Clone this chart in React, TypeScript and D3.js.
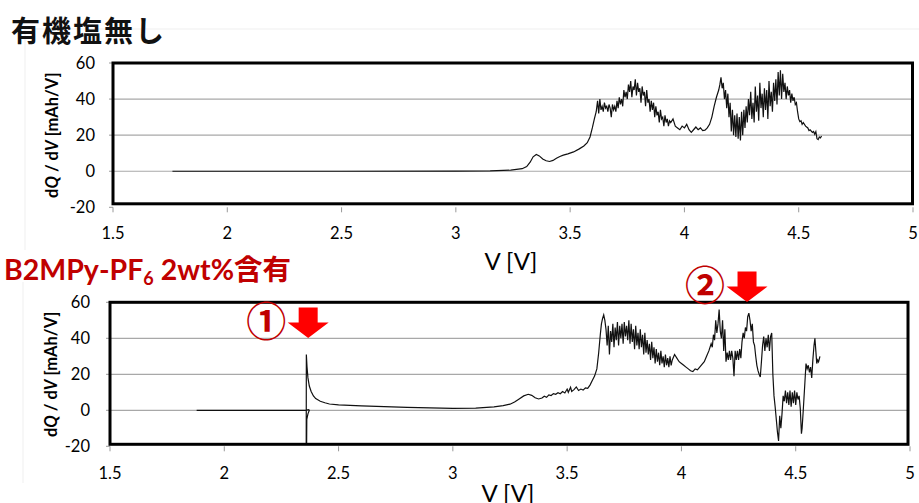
import React from "react";
import * as d3 from "d3";

// ---------- data ----------
const xTicks = [1.5, 2, 2.5, 3, 3.5, 4, 4.5, 5];
const yTicks = [-20, 0, 20, 40, 60];
const gridValues = [0, 20, 40];
const topTitle = "有機塩無し";
const bottomTitleMain = "B2MPy-PF";
const bottomTitleSub = "6";
const bottomTitleRest = " 2wt%含有";
const xAxisTitle = "V [V]";
const annotationV = [2.367, 4.287];
const annotationLabels = ["①", "②"];

// 有機塩無し : [V, dQ/dV]
const topSeries: [number, number][] = [
  [1.76, 0], [2.5, 0], [3.0, 0.1], [3.15, 0.2], [3.24, 0.6], [3.29, 1.4], [3.31, 2.6], [3.325, 5], [3.338, 8],
  [3.352, 9.3], [3.365, 8.5], [3.38, 6.8], [3.395, 5.8], [3.41, 5.4], [3.425, 6], [3.44, 7.2], [3.455, 8.2],
  [3.47, 8.9], [3.49, 9.6], [3.515, 10.7], [3.54, 12.4], [3.56, 14], [3.575, 15.8], [3.587, 19], [3.597, 24],
  [3.606, 29], [3.614, 33],
  [3.62, 39], [3.625, 32], [3.63, 40], [3.635, 34], [3.64, 36], [3.645, 33], [3.65, 38], [3.655, 35], [3.66, 36],
  [3.665, 33], [3.67, 37], [3.675, 35], [3.68, 30], [3.685, 37], [3.69, 34], [3.695, 36], [3.7, 33], [3.705, 39],
  [3.71, 35], [3.715, 41], [3.72, 37], [3.725, 40], [3.73, 36], [3.735, 45], [3.74, 41], [3.745, 44], [3.75, 40],
  [3.755, 48], [3.76, 44], [3.765, 50], [3.77, 41], [3.775, 47], [3.78, 45], [3.785, 51], [3.79, 42], [3.795, 49],
  [3.8, 44], [3.805, 46], [3.81, 38], [3.815, 47], [3.82, 42], [3.825, 44], [3.83, 36], [3.835, 45], [3.84, 38],
  [3.845, 40], [3.85, 33], [3.855, 39], [3.86, 34], [3.865, 38], [3.87, 30], [3.875, 36], [3.88, 31], [3.885, 33],
  [3.89, 27], [3.895, 34], [3.9, 29], [3.905, 30], [3.91, 25], [3.915, 31], [3.92, 27], [3.925, 29], [3.93, 25],
  [3.935, 28], [3.94, 27], [3.95, 29], [3.96, 25], [3.97, 24], [3.98, 23], [3.99, 25], [4.0, 24], [4.01, 26],
  [4.02, 23], [4.03, 21.5], [4.04, 23], [4.05, 24.5], [4.06, 23], [4.07, 24], [4.08, 22.5], [4.09, 22.8], [4.1, 24],
  [4.11, 26], [4.12, 30], [4.13, 36], [4.14, 41], [4.15, 45], [4.155, 48], [4.16, 52], [4.165, 46], [4.17, 49],
  [4.175, 40], [4.18, 45], [4.185, 35], [4.19, 43], [4.195, 30], [4.2, 38], [4.205, 22], [4.21, 34], [4.215, 20],
  [4.22, 31], [4.225, 19], [4.23, 32], [4.235, 18], [4.24, 30], [4.245, 17], [4.25, 33], [4.255, 20], [4.26, 34],
  [4.265, 24], [4.27, 36], [4.275, 27], [4.28, 40], [4.285, 31], [4.29, 44], [4.295, 29], [4.3, 38], [4.305, 27],
  [4.31, 47], [4.315, 33], [4.32, 42], [4.325, 28], [4.33, 49], [4.335, 35], [4.34, 43], [4.345, 30], [4.35, 46],
  [4.355, 34], [4.36, 45], [4.365, 29], [4.37, 50], [4.375, 36], [4.38, 44], [4.385, 33], [4.39, 49], [4.395, 39],
  [4.4, 51], [4.405, 37], [4.41, 55], [4.415, 42], [4.42, 56], [4.425, 40], [4.43, 54], [4.435, 44], [4.44, 49],
  [4.445, 40], [4.45, 47], [4.455, 42], [4.46, 45], [4.465, 38], [4.47, 43], [4.475, 39], [4.48, 41], [4.485, 37],
  [4.49, 38], [4.495, 33], [4.5, 29], [4.505, 27.5], [4.51, 28], [4.515, 26], [4.52, 27], [4.53, 25], [4.54, 24],
  [4.545, 22.5], [4.55, 23], [4.56, 21.5], [4.565, 22], [4.57, 20.5], [4.575, 22], [4.58, 18], [4.585, 17.5],
  [4.59, 19], [4.595, 18.5], [4.6, 19.5],
];

// B2MPy-PF6 2wt%含有 : [V, dQ/dV]
const bottomSeries: [number, number][] = [
  [1.879, 0], [2.356, 0], [2.368, 0.4], [2.372, 0], [2.366, -2], [2.361, -5], [2.358, -60], [2.359, 31],
  [2.362, 24], [2.366, 18], [2.372, 13.5], [2.38, 10.5], [2.39, 8], [2.4, 6.5], [2.42, 5], [2.44, 4.2], [2.46, 3.5],
  [2.5, 3], [2.6, 2.5], [2.7, 2], [2.8, 1.6], [2.9, 1.3], [3.0, 1.1], [3.1, 1.2], [3.18, 1.9], [3.22, 2.6],
  [3.25, 3.4], [3.27, 4.6], [3.29, 6.3], [3.31, 8], [3.33, 8.9], [3.345, 8.3], [3.36, 7], [3.375, 6.3], [3.39, 6.8],
  [3.4, 7.8], [3.41, 7.2], [3.42, 8.6], [3.43, 8.2], [3.44, 9.3], [3.45, 8.9], [3.46, 9.8], [3.47, 9.2], [3.48, 10.4],
  [3.49, 9.6], [3.5, 11.8], [3.505, 10], [3.515, 12.8], [3.52, 10.5], [3.53, 11.5], [3.54, 13], [3.55, 11],
  [3.56, 11.8], [3.57, 11.2], [3.58, 12.5], [3.59, 12.2], [3.6, 14], [3.61, 16.5], [3.62, 19], [3.63, 23],
  [3.638, 32], [3.645, 42], [3.65, 48], [3.655, 51], [3.66, 53], [3.665, 50], [3.67, 45],
  [3.675, 36], [3.68, 47], [3.685, 31], [3.69, 44], [3.695, 38], [3.7, 48], [3.705, 35], [3.71, 46], [3.715, 39],
  [3.72, 49], [3.725, 36], [3.73, 47], [3.735, 40], [3.74, 48], [3.745, 37], [3.75, 49], [3.755, 41], [3.76, 47],
  [3.765, 39], [3.77, 50], [3.775, 37], [3.78, 48], [3.785, 38], [3.79, 45], [3.795, 34], [3.8, 47], [3.805, 36],
  [3.81, 43], [3.815, 34], [3.82, 45], [3.825, 35], [3.83, 42], [3.835, 31], [3.84, 43], [3.845, 32], [3.85, 39],
  [3.855, 31], [3.86, 37], [3.865, 28], [3.87, 38], [3.875, 29], [3.88, 35], [3.885, 26], [3.89, 34], [3.895, 27],
  [3.9, 32], [3.905, 25], [3.91, 33], [3.915, 26], [3.92, 30], [3.925, 24], [3.93, 31], [3.935, 25], [3.94, 29],
  [3.945, 24], [3.95, 30], [3.955, 25], [3.96, 28], [3.97, 31], [3.98, 29], [3.99, 27], [4.0, 26], [4.01, 25],
  [4.02, 24], [4.03, 23], [4.04, 22], [4.05, 21.5], [4.06, 23], [4.07, 22.5], [4.08, 24], [4.09, 25.5], [4.1, 27],
  [4.11, 30], [4.12, 33], [4.13, 37], [4.135, 35], [4.14, 42], [4.145, 39], [4.15, 50], [4.155, 43], [4.16, 48],
  [4.165, 56], [4.17, 44], [4.175, 40], [4.18, 50], [4.185, 33], [4.19, 45], [4.195, 27], [4.2, 32], [4.205, 28],
  [4.21, 33], [4.215, 28], [4.22, 33], [4.225, 29], [4.23, 19], [4.235, 33], [4.24, 28], [4.245, 33], [4.25, 28],
  [4.255, 34], [4.26, 29], [4.265, 38], [4.27, 43], [4.275, 40], [4.28, 46], [4.285, 44], [4.29, 52], [4.295, 54],
  [4.3, 50], [4.305, 44], [4.31, 48], [4.315, 38], [4.32, 36], [4.325, 30], [4.33, 25], [4.335, 22], [4.34, 20],
  [4.345, 18.5], [4.35, 27], [4.355, 36], [4.36, 41], [4.365, 33], [4.37, 40], [4.375, 35], [4.38, 42], [4.385, 33],
  [4.39, 41], [4.395, 43], [4.4, 20], [4.405, 8], [4.41, 2], [4.415, -5], [4.42, -12], [4.425, -17], [4.43, -3],
  [4.435, -10], [4.44, -2], [4.445, 8], [4.45, 5], [4.455, 11], [4.46, 4], [4.465, 10], [4.47, 3], [4.475, 11],
  [4.48, 2], [4.485, 10], [4.49, 4], [4.495, 11], [4.5, 3], [4.505, 10], [4.51, 6], [4.515, 8], [4.52, 1],
  [4.525, -13], [4.528, -10], [4.533, 0], [4.54, 15], [4.545, 26], [4.55, 23], [4.555, 25], [4.56, 21],
  [4.565, 24], [4.57, 18], [4.575, 28], [4.58, 36], [4.584, 40], [4.588, 33], [4.592, 26], [4.596, 28], [4.6, 27],
  [4.606, 30],
];

const FONT = "Lato, 'Noto Sans CJK JP', sans-serif";

type PanelProps = {
  id: string;
  series: [number, number][];
  x0: number;
  x1: number;
  yTop: number;
  yBottom: number;
  insetRight: number;
  insetBottom: number;
  yLabelRight: number;
  yTitleX: number;
  xLabelY: number;
  xTitleY: number;
};

function Panel(p: PanelProps) {
  const x = d3.scaleLinear().domain([1.5, 5]).range([p.x0, p.x1]);
  const y = d3.scaleLinear().domain([-20, 60]).range([p.yBottom, p.yTop]);
  const line = d3
    .line<[number, number]>()
    .x((d) => x(d[0]))
    .y((d) => y(d[1]));
  const bx0 = x(1.5);
  const bx1 = x(5) - p.insetRight;
  const by0 = y(60);
  const by1 = y(-20) - p.insetBottom;
  const cy = (y(60) + y(-20)) / 2;
  return (
    <g>
      <defs>
        <clipPath id={p.id}>
          <rect x={bx0} y={by0} width={bx1 - bx0} height={by1 - by0} />
        </clipPath>
      </defs>
      {gridValues.map((v) => (
        <line key={v} x1={bx0} x2={bx1} y1={y(v)} y2={y(v)} stroke="#a8a8a8" strokeWidth={1.2} />
      ))}
      {yTicks.map((v) => (
        <line key={"yt" + v} x1={bx0 - 4} x2={bx0} y1={y(v)} y2={y(v)} stroke="#999" strokeWidth={1} />
      ))}
      {xTicks.map((v) => (
        <line key={"xt" + v} x1={x(v)} x2={x(v)} y1={y(-20)} y2={y(-20) + 5} stroke="#999" strokeWidth={1} />
      ))}
      <path d={line(p.series) || ""} fill="none" stroke="#111" strokeWidth={1.2} clipPath={`url(#${p.id})`} />
      <rect x={bx0} y={by0} width={bx1 - bx0} height={by1 - by0} fill="none" stroke="#000" strokeWidth={3} />
      {yTicks.map((v) => (
        <text key={"yl" + v} x={p.yLabelRight} y={y(v) + 5.5} textAnchor="end" fontSize={16.5} fontFamily={FONT} fill="#000">
          {v}
        </text>
      ))}
      {xTicks.map((v) => (
        <text key={"xl" + v} x={x(v)} y={p.xLabelY} textAnchor="middle" fontSize={16.5} fontFamily={FONT} fill="#000">
          {String(v)}
        </text>
      ))}
      <text
        transform={`translate(${p.yTitleX},${cy}) rotate(-90)`}
        textAnchor="middle"
        fontSize={16.5}
        fontWeight="bold"
        fontFamily={FONT}
        fill="#000"
      >
        d<tspan fontStyle="italic">Q</tspan> / d<tspan fontStyle="italic">V</tspan> [mAh/V]
      </text>
      <text x={(p.x0 + p.x1) / 2 - 2} y={p.xTitleY} textAnchor="middle" fontSize={24} fontFamily={FONT} fill="#000">
        {xAxisTitle}
      </text>
    </g>
  );
}

function Arrow({ cx, tipY }: { cx: number; tipY: number }) {
  const hw = 20.5;
  const sw = 9.5;
  const hh = 15.5;
  const sh = 15;
  const pts = [
    [cx - sw, tipY - hh - sh],
    [cx + sw, tipY - hh - sh],
    [cx + sw, tipY - hh],
    [cx + hw, tipY - hh],
    [cx, tipY],
    [cx - hw, tipY - hh],
    [cx - sw, tipY - hh],
  ];
  return <polygon points={pts.map((q) => q.join(",")).join(" ")} fill="#ff0000" />;
}

export default function App() {
  const xBottom = d3.scaleLinear().domain([1.5, 5]).range([110, 910]);
  const tips = [338, 302];
  return (
    <div style={{ position: "absolute", left: 0, top: 0 }}>
      <svg width={919} height={503} style={{ display: "block", background: "#fff" }}>
        <line x1={25} x2={919} y1={29} y2={29} stroke="#efefef" />
        <line x1={25} x2={25} y1={29} y2={250} stroke="#efefef" />
        <line x1={23} x2={23} y1={282} y2={483} stroke="#efefef" />
        <Panel
          id="clipTop"
          series={topSeries}
          x0={113}
          x1={913}
          yTop={63}
          yBottom={207.3}
          insetRight={0.5}
          insetBottom={3.5}
          yLabelRight={95}
          yTitleX={58}
          xLabelY={239}
          xTitleY={270}
        />
        <Panel
          id="clipBottom"
          series={bottomSeries}
          x0={110}
          x1={910}
          yTop={302.3}
          yBottom={446.3}
          insetRight={2}
          insetBottom={2}
          yLabelRight={90}
          yTitleX={57}
          xLabelY={479}
          xTitleY={502}
        />
        <text x={11} y={42} fontSize={29} fontWeight="bold" fontFamily="'Noto Sans CJK JP', sans-serif" letterSpacing={2} fill="#111">
          {topTitle}
        </text>
        <text x={4} y={280} fontSize={28.5} fontWeight="bold" fontFamily={FONT} fill="#c00000">
          {bottomTitleMain}
          <tspan fontSize={18} dy={5}>{bottomTitleSub}</tspan>
          <tspan dy={-5}>{bottomTitleRest}</tspan>
        </text>
        {annotationV.map((v, i) => (
          <g key={i}>
            <Arrow cx={xBottom(v)} tipY={tips[i]} />
            <text
              x={xBottom(v) - 42}
              y={tips[i] - 16 + 14}
              textAnchor="middle"
              fontSize={40}
              fontWeight="bold"
              fontFamily="'Noto Sans CJK JP', sans-serif"
              fill="#c00000"
            >
              {annotationLabels[i]}
            </text>
          </g>
        ))}
      </svg>
    </div>
  );
}
